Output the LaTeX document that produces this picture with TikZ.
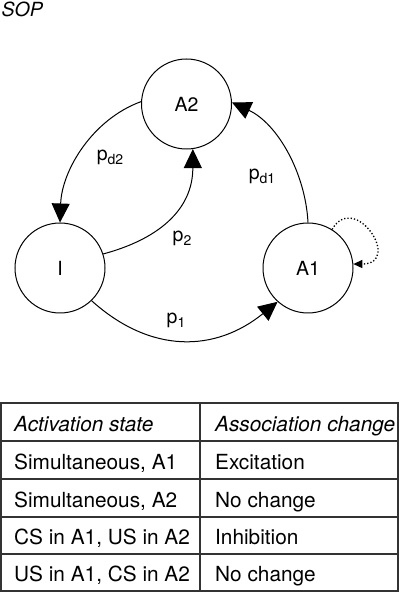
\documentclass[tikz,border=0pt]{standalone}
\usepackage{fontspec}
\setmainfont{TeX Gyre Heros}
\usetikzlibrary{arrows.meta}
\begin{document}
\begin{tikzpicture}[x=1pt,y=1pt,
  state/.style={circle,draw,line width=1pt,minimum size=90pt,inner sep=0pt,font=\fontsize{19.5}{19.5}\selectfont},
  conn/.style={line width=1pt,-{Triangle[length=19pt,width=18pt]}},
  plabel/.style={font=\fontsize{19.5}{19.5}\selectfont,inner sep=0pt},
  tline/.style={line width=1.6pt,draw=black!80},
  tcell/.style={anchor=base west,inner sep=0pt,font=\fontsize{20.8}{20.8}\selectfont}]
\newcommand{\psub}[1]{p\raisebox{-4pt}{\fontsize{14}{14}\selectfont #1}}
\useasboundingbox (0,0) rectangle (404,592);
\node[anchor=base west,inner sep=0pt,font=\fontsize{19.5}{19.5}\selectfont\itshape] (title) at (1.5,575.5) {SOP};
\node[state] (A2) at (186.5,488) {A2};
\node[state] (I) at (60,324) {I};
\node[state] (A1) at (308,324) {A1};
\draw[conn] (A2.177) to[out=200,in=88,out distance=52pt,in distance=52pt] (I.90);
\draw[conn] (I.18) to[out=15,in=-90,out distance=55pt,in distance=62pt] (A2.278);
\draw[conn] (A1.90) to[out=93,in=-25,out distance=50pt,in distance=50pt] (A2.2);
\draw[conn] (I.314) to[out=-42,in=219,out distance=80pt,in distance=80pt] (A1.228);
\draw[line width=1.3pt,dotted,-{Triangle[length=9pt,width=8pt]}] (A1.58) to[out=60,in=0,out distance=45pt,in distance=50pt] (A1.5);
\node[plabel] (lpd2) at (110,435) {\psub{d2}};
\node[plabel] (lpd1) at (262,416) {\psub{d1}};
\node[plabel] (lp2) at (182,354) {\psub{2}};
\node[plabel] (lp1) at (176,272) {\psub{1}};
% table
\draw[tline] (1,189) rectangle (398,1);
\draw[tline] (200,189) -- (200,1);
\foreach \yy in {151,113,75,38} \draw[tline] (1,\yy) -- (398,\yy);
\node[tcell,font=\fontsize{20.8}{20.8}\selectfont\itshape] (h1) at (14,160.3) {Activation state};
\node[tcell,font=\fontsize{20.8}{20.8}\selectfont\itshape] (h2) at (215,160.3) {Association change};
\node[tcell] (r1a) at (14,122.3) {Simultaneous, A1};
\node[tcell] (r1b) at (215,122.3) {Excitation};
\node[tcell] (r2a) at (14,84.3) {Simultaneous, A2};
\node[tcell] (r2b) at (215,84.3) {No change};
\node[tcell] (r3a) at (14,47.3) {CS in A1, US in A2};
\node[tcell] (r3b) at (215,47.3) {Inhibition};
\node[tcell] (r4a) at (14,10.3) {US in A1, CS in A2};
\node[tcell] (r4b) at (215,10.3) {No change};
\end{tikzpicture}
\end{document}
